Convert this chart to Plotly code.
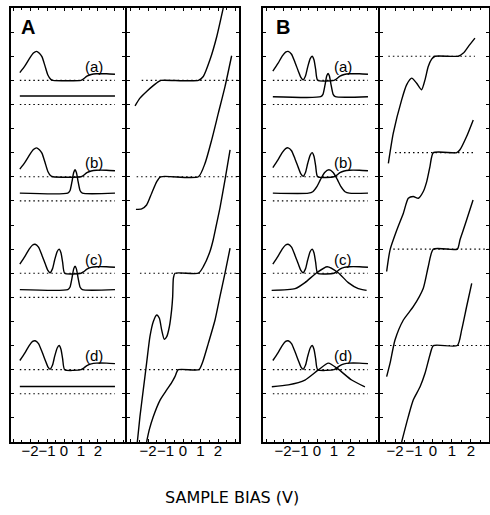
import plotly.graph_objects as go

# ---------------- data ----------------
# baselines (y units) of the four cases a-d
CASES = ["(a)", "(b)", "(c)", "(d)"]
UPPER_BASE = [15, 11, 7, 3]
LOWER_BASE = [14, 10, 6, 2]
RIGHT_BASE_A = [15, 11, 7, 3]
RIGHT_BASE_B = [16, 12, 8, 4]

# upper (sample) spectra, relative to upper baseline
ONE_PEAK_V = [-2.6, -2.3, -2.0, -1.8, -1.62, -1.45, -1.3, -1.12, -0.95, -0.78, -0.65, 1.0, 1.15, 1.35, 1.6, 1.9, 2.5, 3.0]
ONE_PEAK_Y = [0.32, 0.6, 0.94, 1.13, 1.2, 1.12, 0.98, 0.6, 0.22, 0.04, 0.0, 0.0, 0.06, 0.17, 0.24, 0.27, 0.27, 0.25]
TWO_PEAK_V = [-2.6, -2.3, -2.05, -1.85, -1.7, -1.5, -1.3, -1.1, -0.95, -0.82, -0.68, -0.55, -0.4, -0.29, -0.18, -0.08, 0.04, 1.0, 1.15, 1.35, 1.6, 1.9, 2.5, 3.0]
TWO_PEAK_Y = [0.38, 0.7, 1.0, 1.17, 1.2, 1.08, 0.75, 0.38, 0.12, 0.02, 0.18, 0.55, 0.9, 1.0, 0.85, 0.45, 0.0, 0.0, 0.06, 0.17, 0.24, 0.27, 0.27, 0.25]

# lower (tip) spectra, relative to lower baseline
FLAT_HI_V = [-2.6, 3.0]
FLAT_HI_Y = [0.35, 0.35]
FLAT_LO_V = [-2.6, 3.0]
FLAT_LO_Y = [0.3, 0.3]
NARROW_V = [-2.6, 0.22, 0.35, 0.47, 0.57, 0.65, 0.73, 0.83, 0.95, 1.08, 3.0]
NARROW_Y = [0.32, 0.32, 0.42, 0.8, 1.18, 1.29, 1.18, 0.8, 0.42, 0.32, 0.32]
MEDIUM_V = [-2.6, -0.5, -0.25, 0.0, 0.2, 0.45, 0.7, 0.95, 1.2, 1.4, 1.65, 1.9, 3.0]
MEDIUM_Y = [0.32, 0.32, 0.38, 0.6, 0.88, 1.18, 1.29, 1.18, 0.88, 0.6, 0.38, 0.32, 0.32]
WIDE_V = [-2.67, -1.29, -0.71, -0.02, 0.6, 1.25, 1.84, 2.43, 2.92]
WIDE_Y = [0.29, 0.36, 0.61, 1.02, 1.27, 1.02, 0.61, 0.36, 0.29]
WIDEST_V = [-2.66, -1.69, -0.71, 0.08, 0.67, 1.25, 2.04, 2.82]
WIDEST_Y = [0.29, 0.37, 0.57, 0.99, 1.27, 1.02, 0.57, 0.29]

# right-hand curves (absolute y units)
RA_V = [
    [-2.74, -2.46, -2.08, -1.70, -1.40, -1.25, 0.88, 1.16, 1.54, 1.93, 2.36],
    [-2.69, -2.36, -2.08, -1.79, -1.50, -1.28, 0.88, 1.26, 1.64, 2.02, 2.4, 2.78],
    [-2.61, -2.46, -2.27, -2.08, -1.89, -1.70, -1.5, -1.35, -1.22, -1.07, -0.93, -0.78, -0.65, -0.59, -0.55, -0.46, 0.88, 1.16, 1.54, 1.73, 1.92, 2.11, 2.4, 2.69],
    [-2.08, -1.93, -1.7, -1.31, -0.93, -0.65, -0.46, -0.27, 0.91, 1.13, 1.45, 1.83, 2.11, 2.4, 2.69],
]
RA_Y = [
    [13.94, 14.26, 14.54, 14.78, 14.95, 15.0, 15.0, 15.16, 15.85, 16.82, 18.2],
    [9.65, 9.67, 9.83, 10.32, 10.8, 11.0, 11.0, 11.56, 12.53, 13.64, 14.74, 16.02],
    [0.0, 1.05, 2.16, 3.27, 4.37, 4.99, 5.27, 5.13, 4.65, 4.26, 4.37, 4.78, 5.48, 6.03, 6.79, 7.0, 7.0, 7.27, 7.9, 8.4, 9.05, 9.7, 10.87, 12.12],
    [0.0, 0.5, 1.05, 1.74, 2.16, 2.46, 2.71, 3.0, 3.0, 3.33, 4.1, 5.06, 6.03, 7.0, 8.04],
]
RB_V = [
    [-2.35, -2.09, -1.65, -1.39, -1.12, -0.86, -0.6, -0.42, -0.25, -0.07, 0.11, 1.33, 1.6, 1.86, 2.21],
    [-2.44, -2.26, -1.9, -1.56, -1.3, -1.04, -0.77, -0.51, -0.33, -0.16, 0.02, 1.25, 1.42, 1.77, 2.12],
    [-2.44, -2.26, -2.0, -1.56, -1.04, -0.51, -0.25, 0.02, 1.28, 1.42, 1.6, 1.77, 2.11],
    [-1.65, -1.3, -1.04, -0.68, -0.42, -0.16, 0.02, 1.28, 1.51, 1.77, 2.04],
]
RB_Y = [
    [11.56, 12.81, 14.19, 14.81, 15.09, 14.88, 14.61, 15.02, 15.57, 15.88, 16.0, 16.0, 16.13, 16.4, 16.75],
    [7.07, 7.97, 8.8, 9.49, 10.11, 10.18, 10.11, 10.39, 10.8, 11.42, 12.0, 12.0, 12.12, 12.67, 13.36],
    [2.71, 3.27, 4.23, 5.06, 5.61, 6.38, 7.27, 8.0, 8.0, 8.38, 8.8, 9.21, 10.04],
    [0.0, 1.05, 1.74, 2.29, 2.85, 3.61, 4.0, 4.0, 4.65, 5.61, 6.58],
]

# dotted reference lines in the right panels: (start, end) in volts
RA_DOT = [(-2.36, 3.2), (-2.65, 3.2), (-2.46, 3.2), (-2.46, 3.2)]
RB_DOT = [(-2.35, 2.21), (-2.0, 2.12), (-2.09, 2.91), (-2.26, 2.74)]
LEFT_DOT = (-2.6, 3.0)

A_UPPER = [(ONE_PEAK_V, ONE_PEAK_Y), (ONE_PEAK_V, ONE_PEAK_Y), (TWO_PEAK_V, TWO_PEAK_Y), (TWO_PEAK_V, TWO_PEAK_Y)]
A_LOWER = [(FLAT_HI_V, FLAT_HI_Y), (NARROW_V, NARROW_Y), (NARROW_V, NARROW_Y), (FLAT_LO_V, FLAT_LO_Y)]
B_UPPER = [(TWO_PEAK_V, TWO_PEAK_Y)] * 4
B_LOWER = [(NARROW_V, NARROW_Y), (MEDIUM_V, MEDIUM_Y), (WIDE_V, WIDE_Y), (WIDEST_V, WIDEST_Y)]

TICK_VALS = [-3, -2, -1, 0, 1, 2, 3]
TICK_TEXT = ["", "\u22122", "\u22121", "0", "1", "2", ""]

# ---------------- figure ----------------
W, H = 490, 515
fig = go.Figure()

LINE = dict(color="black", width=1.4, shape="spline", smoothing=0.6)
DOT = dict(color="black", width=1.1, dash="1.5px,3px")


def add_line(xs, ys, ax, style):
    fig.add_trace(go.Scatter(x=xs, y=ys, mode="lines", line=style,
                             xaxis="x" + ax, yaxis="y" + ax,
                             showlegend=False, hoverinfo="skip"))


for i in range(4):
    for base in (UPPER_BASE[i], LOWER_BASE[i]):
        add_line(list(LEFT_DOT), [base, base], "", DOT)
        add_line(list(LEFT_DOT), [base, base], "3", DOT)
    v, y = A_UPPER[i]
    add_line(v, [a + UPPER_BASE[i] for a in y], "", LINE)
    v, y = A_LOWER[i]
    add_line(v, [a + LOWER_BASE[i] for a in y], "", LINE)
    v, y = B_UPPER[i]
    add_line(v, [a + UPPER_BASE[i] for a in y], "3", LINE)
    v, y = B_LOWER[i]
    add_line(v, [a + LOWER_BASE[i] for a in y], "3", LINE)
    add_line(list(RA_DOT[i]), [RIGHT_BASE_A[i]] * 2, "2", DOT)
    add_line(RA_V[i], RA_Y[i], "2", LINE)
    add_line(list(RB_DOT[i]), [RIGHT_BASE_B[i]] * 2, "4", DOT)
    add_line(RB_V[i], RB_Y[i], "4", LINE)

ydom = [(H - 442) / H, (H - 8) / H]
xdoms = [(11, 125), (127, 239), (263, 378), (380, 489)]
xranges = [[-3.12, 3.59], [-3.2, 3.2], [-3.18, 3.59], [-2.79, 2.95]]

layout = dict(width=W, height=H, margin=dict(l=0, r=0, t=0, b=0), autosize=False,
              paper_bgcolor="white", plot_bgcolor="white", showlegend=False)
for k in range(4):
    sx = "" if k == 0 else str(k + 1)
    layout["xaxis" + sx] = dict(
        domain=[xdoms[k][0] / W, xdoms[k][1] / W], range=xranges[k],
        anchor="y" + sx, showline=True, linecolor="black", linewidth=2,
        mirror="ticks", ticks="inside", ticklen=3, tickwidth=1, tickcolor="black",
        tickmode="array", tickvals=TICK_VALS, ticktext=TICK_TEXT, tickangle=0,
        ticklabelstandoff=-6,
        tickfont=dict(family="Liberation Sans", size=15, color="black"),
        minor=dict(dtick=0.5, tick0=0, ticks="inside", ticklen=2, tickcolor="black"),
        showgrid=False, zeroline=False, fixedrange=True)
    layout["yaxis" + sx] = dict(
        domain=ydom, range=[0, 18], anchor="x" + sx, showline=True,
        linecolor="black", linewidth=2, mirror="ticks", ticks="inside",
        ticklen=3, tickwidth=1, tickcolor="black", dtick=1, tick0=0,
        showticklabels=False, showgrid=False, zeroline=False, fixedrange=True)
fig.update_layout(**layout)

ann = []
for lab, px in (("<b>A</b>", 28), ("<b>B</b>", 283)):
    ann.append(dict(text=lab, x=px / W, y=(H - 27) / H, xref="paper", yref="paper",
                    xanchor="center", yanchor="middle", showarrow=False,
                    font=dict(family="Liberation Sans", size=20, color="black")))
for i, lab in enumerate(CASES):
    ann.append(dict(text=lab, x=1.75, y=UPPER_BASE[i] + 0.58, xref="x", yref="y",
                    showarrow=False, font=dict(family="Liberation Sans", size=15, color="black")))
    ann.append(dict(text=lab, x=1.5, y=UPPER_BASE[i] + 0.58, xref="x3", yref="y3",
                    showarrow=False, font=dict(family="Liberation Sans", size=15, color="black")))
ann.append(dict(text="SAMPLE BIAS (V)", x=232 / W, y=(H - 497.5) / H, xref="paper", yref="paper",
                xanchor="center", yanchor="middle", showarrow=False,
                font=dict(family="DejaVu Sans", size=16, color="black")))
fig.update_layout(annotations=ann)

fig.write_html("out.html")
